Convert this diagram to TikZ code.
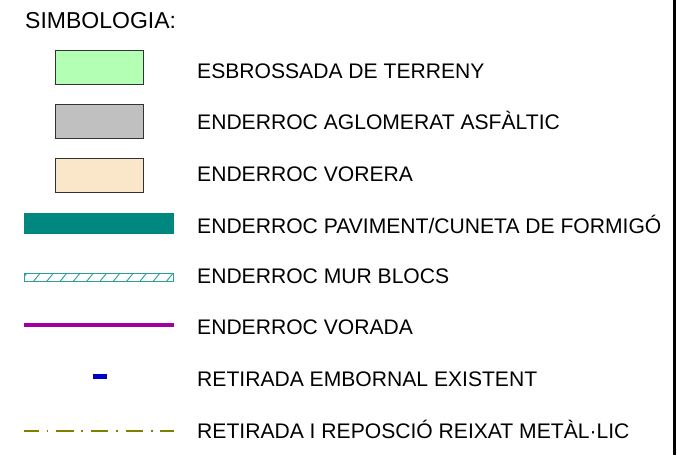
\documentclass[tikz,border=0pt]{standalone}
\usepackage{fontspec}
\setmainfont{Liberation Sans}
\begin{document}
\begin{tikzpicture}[x=1pt,y=-1pt,
  lbl/.style={anchor=base west,inner sep=0pt,font=\fontsize{21.1}{25}\selectfont},
  swatch/.style={draw=black!80,line width=0.8pt,minimum width=88pt,minimum height=34pt,inner sep=0pt,anchor=north west},
  hatchcol/.style={draw=hatchteal,line width=1pt}]
\definecolor{lgreen}{RGB}{179,255,179}
\definecolor{lgray}{RGB}{192,192,192}
\definecolor{beige}{RGB}{250,230,200}
\definecolor{tealfill}{RGB}{0,136,128}
\definecolor{hatchteal}{RGB}{40,160,152}
\definecolor{vpurple}{RGB}{160,0,160}
\definecolor{eblue}{RGB}{0,0,200}
\definecolor{olive}{RGB}{128,128,0}
\useasboundingbox (0,0) rectangle (677,455);
\fill[white] (0,0) rectangle (677,455);
% right border
\draw[line width=3pt] (674.5,0) -- (674.5,455);
% title
\node[lbl,font=\fontsize{23}{27}\selectfont] (title) at (25,28.3) {SIMBOLOGIA:};
% swatches
\node[swatch,fill=lgreen] (s1) at (55,50) {};
\node[swatch,fill=lgray] (s2) at (55,104) {};
\node[swatch,fill=beige] (s3) at (55,158) {};
\node[fill=tealfill,minimum width=150pt,minimum height=21pt,inner sep=0pt,anchor=north west] (s4) at (24,213) {};
% hatched bar
\coordinate (h1) at (24.5,273);
\coordinate (h2) at (173.5,281.5);
\begin{scope}
\clip (h1) rectangle (h2);
\foreach \i in {0,...,12} {
  \draw[hatchcol,line width=0.9pt] (20+13.3*\i,281.5) -- (27+13.3*\i,273);
}
\end{scope}
\draw[hatchcol] (h1) rectangle (h2);
% purple line
\coordinate (p1) at (24,325);
\coordinate (p2) at (174,325);
\draw[vpurple,line width=3.5pt] (p1) -- (p2);
% blue dash
\node[fill=eblue,minimum width=14pt,minimum height=4.5pt,inner sep=0pt] (b1) at (99.5,376.5) {};
% dash-dot line
\coordinate (d1) at (24,431);
\coordinate (d2) at (174,431);
\draw[olive,line width=2.6pt,dash pattern=on 17.6pt off 7.6pt on 1.8pt off 7.7pt,dash phase=2.6pt] (d1) -- (d2);
% labels
\node[lbl] (t1) at (197,78) {ESBROSSADA DE TERRENY};
\node[lbl] (t2) at (197,129.5) {ENDERROC AGLOMERAT ASFÀLTIC};
\node[lbl] (t3) at (197,181.5) {ENDERROC VORERA};
\node[lbl] (t4) at (197,233) {ENDERROC PAVIMENT/CUNETA DE FORMIGÓ};
\node[lbl] (t5) at (197,283.5) {ENDERROC MUR BLOCS};
\node[lbl] (t6) at (197,334.5) {ENDERROC VORADA};
\node[lbl] (t7) at (197,386.5) {RETIRADA EMBORNAL EXISTENT};
\node[lbl] (t8) at (197,438.5) {RETIRADA I REPOSCIÓ REIXAT METÀL·LIC};
\end{tikzpicture}
\end{document}
